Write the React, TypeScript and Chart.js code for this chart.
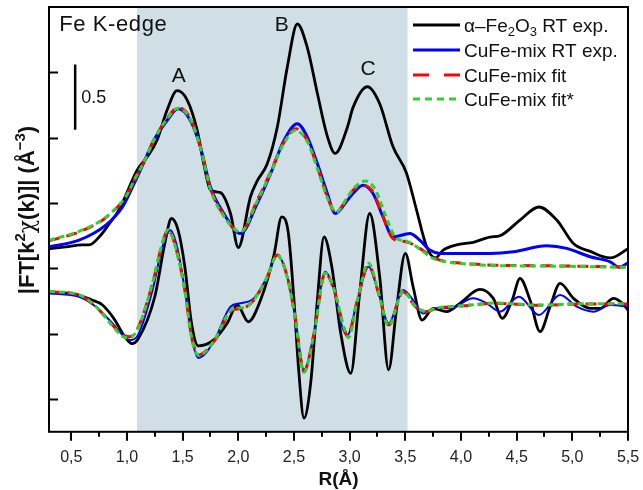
import { useEffect, useRef } from "react";
import { Chart, registerables } from "chart.js";

Chart.register(...registerables);

const FONT = '"Liberation Sans", Arial, Helvetica, sans-serif';

// Axis definitions (R in Å, arbitrary offset units on y)
const rMajorTicks = [0.5, 1.0, 1.5, 2.0, 2.5, 3.0, 3.5, 4.0, 4.5, 5.0, 5.5];
const rMinorTicks = [0.75, 1.25, 1.75, 2.25, 2.75, 3.25, 3.75, 4.25, 4.75, 5.25];
const yTicks = [0, 0.5, 1.0, 1.5, 2.0, 2.5];
const fitWindow = [1.09, 3.52];
const scaleBarR = [0.535, 0.535];
const scaleBarY = [2.06, 2.56];

// |FT| magnitude, alpha-Fe2O3 RT exp.
const feMagR = [0.30, 0.45, 0.60, 0.66, 0.75, 0.84, 0.93, 1.01, 1.09, 1.18, 1.27, 1.36, 1.45, 1.54, 1.63, 1.69, 1.75, 1.84, 1.93, 2.00, 2.11, 2.17, 2.26, 2.35, 2.44, 2.53, 2.62, 2.71, 2.80, 2.87, 2.98, 3.03, 3.16, 3.27, 3.39, 3.51, 3.60, 3.69, 3.77, 3.84, 3.96, 4.11, 4.26, 4.35, 4.53, 4.70, 4.86, 5.01, 5.16, 5.34, 5.50];
const feMag = [1.15, 1.165, 1.18, 1.18, 1.24, 1.34, 1.45, 1.60, 1.75, 1.85, 1.98, 2.21, 2.36, 2.29, 2.06, 1.80, 1.60, 1.58, 1.42, 1.16, 1.55, 1.67, 1.80, 2.08, 2.54, 2.87, 2.69, 2.34, 2.01, 1.88, 2.08, 2.23, 2.39, 2.26, 1.93, 1.73, 1.45, 1.17, 1.08, 1.14, 1.18, 1.20, 1.24, 1.25, 1.37, 1.47, 1.37, 1.19, 1.13, 1.08, 1.15];

// |FT| magnitude, CuFe-mix RT exp.
const mixMagR = [0.30, 0.57, 0.81, 0.96, 1.05, 1.16, 1.24, 1.36, 1.46, 1.57, 1.66, 1.75, 1.87, 2.02, 2.17, 2.29, 2.41, 2.53, 2.62, 2.71, 2.80, 2.87, 2.98, 3.03, 3.12, 3.21, 3.30, 3.39, 3.54, 3.63, 3.72, 3.81, 3.96, 4.26, 4.47, 4.77, 4.95, 5.16, 5.34, 5.42, 5.50];
const mixMag = [1.165, 1.216, 1.331, 1.470, 1.623, 1.827, 1.979, 2.132, 2.221, 2.132, 1.928, 1.623, 1.420, 1.267, 1.496, 1.725, 1.979, 2.107, 2.005, 1.802, 1.573, 1.420, 1.521, 1.573, 1.636, 1.573, 1.394, 1.241, 1.267, 1.216, 1.140, 1.115, 1.115, 1.115, 1.127, 1.173, 1.153, 1.089, 1.050, 1.008, 1.043];

// |FT| magnitude, CuFe-mix fit
const fitMagR = [0.30, 0.57, 0.78, 0.87, 0.99, 1.08, 1.16, 1.24, 1.36, 1.46, 1.57, 1.66, 1.75, 1.87, 2.02, 2.17, 2.29, 2.41, 2.52, 2.62, 2.71, 2.80, 2.87, 2.98, 3.03, 3.12, 3.21, 3.30, 3.39, 3.51, 3.63, 3.74, 3.81, 3.96, 4.11, 4.30, 4.80, 5.50];
const fitMag = [1.211, 1.279, 1.369, 1.432, 1.547, 1.699, 1.827, 1.979, 2.147, 2.229, 2.147, 1.933, 1.613, 1.407, 1.279, 1.521, 1.737, 1.966, 2.069, 1.979, 1.776, 1.547, 1.432, 1.534, 1.598, 1.636, 1.585, 1.394, 1.229, 1.203, 1.153, 1.089, 1.063, 1.043, 1.033, 1.025, 1.020, 1.010];

// |FT| magnitude, CuFe-mix fit*
const fitStarMagR = [0.30, 0.57, 0.78, 0.87, 0.99, 1.08, 1.16, 1.24, 1.36, 1.46, 1.57, 1.66, 1.75, 1.87, 2.02, 2.17, 2.29, 2.41, 2.51, 2.62, 2.71, 2.80, 2.88, 2.98, 3.04, 3.14, 3.23, 3.32, 3.41, 3.52, 3.63, 3.74, 3.82, 3.96, 4.11, 4.30, 4.80, 5.50];
const fitStarMag = [1.215, 1.283, 1.372, 1.435, 1.550, 1.700, 1.827, 1.979, 2.145, 2.226, 2.140, 1.925, 1.605, 1.400, 1.279, 1.515, 1.730, 1.958, 2.056, 1.970, 1.765, 1.540, 1.432, 1.545, 1.615, 1.669, 1.605, 1.410, 1.240, 1.205, 1.150, 1.080, 1.058, 1.040, 1.030, 1.022, 1.018, 1.008];

// Im[FT], alpha-Fe2O3 RT exp.
const feImR = [0.30, 0.55, 0.68, 0.78, 0.88, 0.98, 1.045, 1.10, 1.25, 1.34, 1.40, 1.46, 1.52, 1.58, 1.64, 1.78, 1.90, 1.99, 2.09, 2.20, 2.32, 2.39, 2.45, 2.50, 2.54, 2.59, 2.65, 2.71, 2.77, 2.84, 2.92, 3.01, 3.09, 3.18, 3.27, 3.35, 3.42, 3.50, 3.57, 3.65, 3.75, 3.87, 3.99, 4.17, 4.29, 4.37, 4.46, 4.53, 4.62, 4.71, 4.80, 4.89, 5.01, 5.16, 5.25, 5.37, 5.45, 5.50];
const feIm = [0.82, 0.80, 0.76, 0.72, 0.62, 0.48, 0.425, 0.46, 0.783, 1.191, 1.382, 1.292, 1.012, 0.580, 0.407, 0.453, 0.580, 0.720, 0.592, 0.758, 1.101, 1.394, 1.267, 0.758, 0.249, -0.145, 0.122, 0.758, 1.241, 1.012, 0.504, 0.198, 0.809, 1.420, 0.936, 0.224, 0.682, 1.115, 0.860, 0.605, 0.695, 0.669, 0.733, 0.840, 0.771, 0.618, 0.758, 0.924, 0.758, 0.516, 0.707, 0.885, 0.771, 0.695, 0.695, 0.771, 0.733, 0.682];

// Im[FT], CuFe-mix RT exp.
const mixImR = [0.30, 0.57, 0.72, 0.87, 0.99, 1.03, 1.10, 1.23, 1.31, 1.39, 1.45, 1.52, 1.58, 1.64, 1.78, 1.93, 2.02, 2.14, 2.26, 2.35, 2.44, 2.51, 2.59, 2.68, 2.78, 2.86, 2.93, 2.98, 3.07, 3.17, 3.26, 3.35, 3.48, 3.57, 3.66, 3.78, 3.90, 4.11, 4.23, 4.35, 4.52, 4.70, 4.89, 5.04, 5.19, 5.34, 5.50];
const mixIm = [0.809, 0.783, 0.707, 0.580, 0.466, 0.453, 0.491, 0.834, 1.139, 1.292, 1.165, 0.834, 0.478, 0.315, 0.440, 0.707, 0.733, 0.771, 0.936, 1.102, 0.936, 0.631, 0.224, 0.504, 0.974, 0.834, 0.560, 0.491, 0.758, 1.012, 0.809, 0.580, 0.834, 0.758, 0.656, 0.695, 0.695, 0.771, 0.733, 0.669, 0.783, 0.644, 0.796, 0.707, 0.669, 0.720, 0.707];

// Im[FT], CuFe-mix fit
const fitImR = [0.30, 0.57, 0.72, 0.87, 0.96, 1.02, 1.09, 1.23, 1.31, 1.37, 1.42, 1.52, 1.58, 1.62, 1.64, 1.78, 1.95, 2.04, 2.14, 2.26, 2.35, 2.44, 2.51, 2.59, 2.68, 2.78, 2.86, 2.95, 2.98, 3.07, 3.17, 3.26, 3.35, 3.48, 3.59, 3.68, 3.79, 3.94, 4.11, 4.30, 4.70, 5.10, 5.50];
const fitIm = [0.821, 0.796, 0.707, 0.567, 0.491, 0.478, 0.529, 0.885, 1.165, 1.292, 1.216, 0.834, 0.478, 0.363, 0.338, 0.440, 0.682, 0.695, 0.758, 0.936, 1.102, 0.936, 0.631, 0.211, 0.504, 0.962, 0.834, 0.540, 0.478, 0.758, 1.025, 0.809, 0.567, 0.821, 0.707, 0.669, 0.695, 0.707, 0.720, 0.733, 0.718, 0.728, 0.728];

// Im[FT], CuFe-mix fit*
const fitStarImR = [0.30, 0.57, 0.72, 0.87, 0.96, 1.01, 1.09, 1.23, 1.31, 1.37, 1.42, 1.52, 1.58, 1.62, 1.65, 1.78, 1.95, 2.04, 2.14, 2.26, 2.35, 2.44, 2.51, 2.59, 2.68, 2.78, 2.86, 2.95, 2.99, 3.07, 3.17, 3.26, 3.35, 3.48, 3.59, 3.68, 3.79, 3.94, 4.11, 4.30, 4.70, 5.10, 5.50];
const fitStarIm = [0.825, 0.798, 0.710, 0.560, 0.480, 0.470, 0.525, 0.890, 1.170, 1.295, 1.210, 0.830, 0.470, 0.355, 0.335, 0.445, 0.690, 0.700, 0.760, 0.935, 1.100, 0.930, 0.625, 0.205, 0.500, 0.965, 0.840, 0.545, 0.470, 0.760, 1.040, 0.815, 0.560, 0.825, 0.710, 0.672, 0.698, 0.710, 0.722, 0.735, 0.720, 0.730, 0.730];

const BLACK = "#000000";
const BLUE = "#0000ff";
const RED = "#ff0000";
const GREEN = "#2ad42a";
const SHADE = "#d0dfe6";

const legendItems = [
  { color: BLACK, dash: [] as number[], parts: [["α–Fe", 0], ["2", 1], ["O", 0], ["3", 1], [" RT exp.", 0]] as [string, number][] },
  { color: BLUE, dash: [] as number[], parts: [["CuFe-mix RT exp.", 0]] as [string, number][] },
  { color: RED, dash: [16, 15], parts: [["CuFe-mix fit", 0]] as [string, number][] },
  { color: GREEN, dash: [7, 5], parts: [["CuFe-mix fit*", 0]] as [string, number][] },
];

const peakLabels = [
  { text: "A", r: 1.465, y: 2.424 },
  { text: "B", r: 2.39, y: 2.819 },
  { text: "C", r: 3.166, y: 2.476 },
];

const pts = (r: number[], v: number[]) => r.map((x, i) => ({ x, y: v[i] }));

const decorPlugin = {
  id: "decor",
  beforeDatasetsDraw(chart: any) {
    const { ctx, chartArea } = chart;
    const xs = chart.scales.x;
    const x1 = xs.getPixelForValue(fitWindow[0]);
    const x2 = xs.getPixelForValue(fitWindow[1]);
    ctx.save();
    ctx.fillStyle = SHADE;
    ctx.fillRect(x1, chartArea.top, x2 - x1, chartArea.bottom - chartArea.top);
    ctx.restore();
  },
  afterDraw(chart: any) {
    const { ctx, chartArea } = chart;
    const xs = chart.scales.x;
    const ys = chart.scales.y;
    const { left, right, top, bottom } = chartArea;
    ctx.save();

    // frame
    ctx.strokeStyle = "#000";
    ctx.lineWidth = 2;
    ctx.strokeRect(left, top, right - left, bottom - top);

    // left ticks (inward)
    ctx.beginPath();
    for (const v of yTicks) {
      const py = Math.round(ys.getPixelForValue(v)) + 0.5;
      ctx.moveTo(left, py);
      ctx.lineTo(left + 9, py);
    }
    // bottom ticks (outward)
    for (const v of rMajorTicks) {
      const px = Math.round(xs.getPixelForValue(v));
      ctx.moveTo(px, bottom);
      ctx.lineTo(px, bottom + 9);
    }
    for (const v of rMinorTicks) {
      const px = Math.round(xs.getPixelForValue(v));
      ctx.moveTo(px, bottom);
      ctx.lineTo(px, bottom + 5);
    }
    ctx.stroke();

    ctx.fillStyle = "#111";
    ctx.textBaseline = "alphabetic";

    // edge label
    ctx.font = `22px ${FONT}`;
    ctx.textAlign = "left";
    (ctx as any).letterSpacing = "0.6px";
    ctx.fillText("Fe K-edge", xs.getPixelForValue(0.392), ys.getPixelForValue(2.819));
    (ctx as any).letterSpacing = "0px";

    // peak labels
    ctx.font = `21px ${FONT}`;
    ctx.textAlign = "center";
    for (const p of peakLabels) {
      ctx.fillText(p.text, xs.getPixelForValue(p.r), ys.getPixelForValue(p.y));
    }

    // scale bar label
    ctx.font = `18px ${FONT}`;
    ctx.textAlign = "left";
    ctx.fillText("0.5", xs.getPixelForValue(0.59), ys.getPixelForValue(2.262));

    // x title
    ctx.font = `bold 19px ${FONT}`;
    ctx.textAlign = "center";
    ctx.fillText("R(Å)", (left + right) / 2, 485);

    // y title with superscripts
    const segs: [string, string, number][] = [
      ["|FT[k", `bold 22px ${FONT}`, 0],
      ["2", `bold 15px ${FONT}`, -9],
      ["χ", `22px "DejaVu Serif", serif`, 0],
      ["(k)]| (Å", `bold 22px ${FONT}`, 0],
      ["−3", `bold 15px ${FONT}`, -9],
      [")", `bold 22px ${FONT}`, 0],
    ];
    let total = 0;
    const widths = segs.map(([t, f]) => {
      ctx.font = f;
      const w = ctx.measureText(t).width;
      total += w;
      return w;
    });
    ctx.translate(34, 210);
    ctx.rotate(-Math.PI / 2);
    let cx = -total / 2;
    ctx.textAlign = "left";
    segs.forEach(([t, f, dy], i) => {
      ctx.font = f;
      ctx.fillText(t, cx, dy);
      cx += widths[i];
    });
    ctx.setTransform(1, 0, 0, 1, 0, 0);

    // legend
    const lx0 = right - 215;
    const lx1 = right - 168;
    const tx = right - 164;
    const rows = [top + 18, top + 43, top + 68, top + 92];
    legendItems.forEach((item, i) => {
      const y = rows[i];
      ctx.beginPath();
      ctx.strokeStyle = item.color;
      ctx.lineWidth = 3;
      ctx.setLineDash(item.dash);
      ctx.moveTo(lx0, y);
      ctx.lineTo(lx1, y);
      ctx.stroke();
      ctx.setLineDash([]);
      let x = tx;
      ctx.fillStyle = "#111";
      ctx.textBaseline = "alphabetic";
      ctx.textAlign = "left";
      for (const [t, sub] of item.parts) {
        ctx.font = sub ? `13px ${FONT}` : `19px ${FONT}`;
        ctx.fillText(t, x, y + 7 + (sub ? 4 : 0));
        x += ctx.measureText(t).width;
      }
    });
    ctx.restore();
  },
};

export default function App() {
  const ref = useRef<HTMLCanvasElement | null>(null);

  useEffect(() => {
    if (!ref.current) return;
    const common = { pointRadius: 0, fill: false, cubicInterpolationMode: "monotone" as const };
    const chart = new Chart(ref.current, {
      type: "line",
      data: {
        datasets: [
          { ...common, data: pts(scaleBarR, scaleBarY), borderColor: BLACK, borderWidth: 2.5, order: 0, cubicInterpolationMode: "default", tension: 0 },
          { ...common, data: pts(fitStarMagR, fitStarMag), borderColor: GREEN, borderWidth: 3, borderDash: [6, 4], order: 1 },
          { ...common, data: pts(fitStarImR, fitStarIm), borderColor: GREEN, borderWidth: 3, borderDash: [6, 4], order: 1 },
          { ...common, data: pts(fitMagR, fitMag), borderColor: RED, borderWidth: 3, borderDash: [11, 7], order: 2 },
          { ...common, data: pts(fitImR, fitIm), borderColor: RED, borderWidth: 3, borderDash: [11, 7], order: 2 },
          { ...common, data: pts(mixMagR, mixMag), borderColor: BLUE, borderWidth: 3, order: 3 },
          { ...common, data: pts(mixImR, mixIm), borderColor: BLUE, borderWidth: 2, order: 3 },
          { ...common, data: pts(feMagR, feMag), borderColor: BLACK, borderWidth: 2.8, order: 4 },
          { ...common, data: pts(feImR, feIm), borderColor: BLACK, borderWidth: 2.8, order: 4 },
        ],
      },
      options: {
        responsive: false,
        animation: false,
        events: [],
        layout: { padding: { left: 49, right: 15, top: 7, bottom: 7 } },
        plugins: { legend: { display: false }, tooltip: { enabled: false } },
        scales: {
          x: {
            type: "linear",
            min: 0.3,
            max: 5.5,
            grid: { display: false, drawTicks: false },
            border: { display: false },
            afterBuildTicks: (s: any) => {
              s.ticks = rMajorTicks.map((value) => ({ value }));
            },
            afterFit: (s: any) => {
              s.paddingLeft = 0;
              s.paddingRight = 0;
            },
            ticks: {
              padding: 16,
              autoSkip: false,
              maxRotation: 0,
              color: "#222",
              font: { family: FONT, size: 16 },
              callback: (v: any) => Number(v).toFixed(1).replace(".", ","),
            },
          },
          y: {
            type: "linear",
            display: false,
            min: -0.25,
            max: 3.0,
          },
        },
      },
      plugins: [decorPlugin],
    });
    return () => chart.destroy();
  }, []);

  return (
    <div style={{ position: "absolute", left: 0, top: 0, width: 643, height: 490, background: "#fff" }}>
      <canvas ref={ref} width={643} height={490} style={{ display: "block" }} />
    </div>
  );
}
